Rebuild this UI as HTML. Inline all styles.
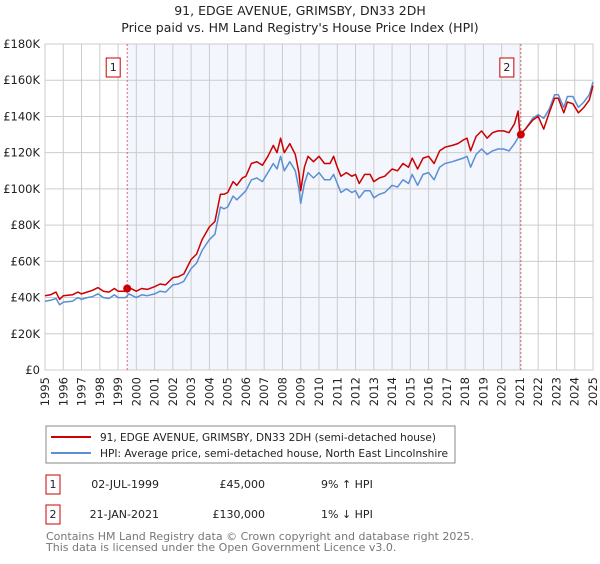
<!DOCTYPE html>
<html><head><meta charset="utf-8"><style>
body{margin:0;background:#fff;width:600px;height:560px;overflow:hidden;font-family:"DejaVu Sans","Liberation Sans",sans-serif;}
svg text{font-family:"DejaVu Sans","Liberation Sans",sans-serif;}
</style></head><body>
<svg id="chart" width="600" height="560">
<text x="300" y="15" text-anchor="middle" font-size="12.5" fill="#222">91, EDGE AVENUE, GRIMSBY, DN33 2DH</text>
<text x="300" y="32" text-anchor="middle" font-size="12.5" fill="#222">Price paid vs. HM Land Registry's House Price Index (HPI)</text>
<g id="plot"></g>
<g>
<rect x="46" y="426" width="409" height="37" fill="#fff" stroke="#888"/>
<line x1="51" y1="437" x2="91" y2="437" stroke="#cc0000" stroke-width="2"/>
<text x="100" y="441" font-size="10.5" fill="#222">91, EDGE AVENUE, GRIMSBY, DN33 2DH (semi-detached house)</text>
<line x1="51" y1="453" x2="91" y2="453" stroke="#5b8fd4" stroke-width="2"/>
<text x="100" y="457" font-size="10.5" fill="#222" textLength="348" lengthAdjust="spacingAndGlyphs">HPI: Average price, semi-detached house, North East Lincolnshire</text>
</g>
<g font-size="11" fill="#222">
<rect x="46" y="475" width="14" height="19" fill="#fff" stroke="#cc0000"/>
<text x="53" y="488" text-anchor="middle">1</text>
<text x="159" y="488" text-anchor="end">02-JUL-1999</text>
<text x="265" y="488" text-anchor="end">£45,000</text>
<text x="321" y="488">9% ↑ HPI</text>
<rect x="46" y="505" width="14" height="19" fill="#fff" stroke="#cc0000"/>
<text x="53" y="518" text-anchor="middle">2</text>
<text x="159" y="518" text-anchor="end">21-JAN-2021</text>
<text x="265" y="518" text-anchor="end">£130,000</text>
<text x="321" y="518">1% ↓ HPI</text>
</g>
<text x="46" y="540" font-size="11" fill="#777">Contains HM Land Registry data © Crown copyright and database right 2025.</text>
<text x="46" y="551" font-size="11" fill="#777">This data is licensed under the Open Government Licence v3.0.</text>
</svg>
<script>
const yTicks=[0,20,40,60,80,100,120,140,160,180];
const yTickLabels=["£0","£20K","£40K","£60K","£80K","£100K","£120K","£140K","£160K","£180K"];
const xYears=[1995,1996,1997,1998,1999,2000,2001,2002,2003,2004,2005,2006,2007,2008,2009,2010,2011,2012,2013,2014,2015,2016,2017,2018,2019,2020,2021,2022,2023,2024,2025];
const hpiYears=[1995.0,1995.3,1995.6,1995.8,1996.0,1996.5,1996.8,1997.0,1997.3,1997.6,1997.9,1998.2,1998.5,1998.8,1999.0,1999.4,1999.6,2000.0,2000.3,2000.6,2001.0,2001.3,2001.6,2002.0,2002.3,2002.6,2003.0,2003.3,2003.6,2004.0,2004.3,2004.6,2004.8,2005.0,2005.3,2005.5,2005.8,2006.0,2006.3,2006.6,2006.9,2007.2,2007.5,2007.7,2007.9,2008.1,2008.4,2008.7,2008.9,2009.0,2009.2,2009.4,2009.7,2010.0,2010.3,2010.6,2010.8,2011.0,2011.2,2011.5,2011.8,2012.0,2012.2,2012.5,2012.8,2013.0,2013.3,2013.6,2014.0,2014.3,2014.6,2014.9,2015.1,2015.4,2015.7,2016.0,2016.3,2016.6,2016.9,2017.3,2017.6,2017.9,2018.1,2018.3,2018.6,2018.9,2019.2,2019.5,2019.8,2020.1,2020.4,2020.7,2021.0,2021.3,2021.7,2022.0,2022.3,2022.6,2022.9,2023.1,2023.4,2023.6,2023.9,2024.2,2024.5,2024.8,2025.0];
const hpiValues=[38,38.5,39.5,36,37.5,38,40,39,40,40.5,42,40,39.5,41.5,40,40,42,40,41.5,41,42,43.5,43,47,47.5,49,56,59,66,72,75,90,89,90,96,94,97,99,105,106,104,109,114,111,118,110,115,110,100,92,103,109,106,109,105,105,108,103,98,100,98,99,95,99,99,95,97,98,102,101,105,103,108,102,108,109,105,112,114,115,116,117,118,112,119,122,119,121,122,122,121,125,130,133,139,141,139,144,152,152,145,151,151,145,148,152,159];
const priceYears=[1995.0,1995.3,1995.6,1995.8,1996.0,1996.5,1996.8,1997.0,1997.3,1997.6,1997.9,1998.2,1998.5,1998.8,1999.0,1999.4,1999.6,2000.0,2000.3,2000.6,2001.0,2001.3,2001.6,2002.0,2002.3,2002.6,2003.0,2003.3,2003.6,2004.0,2004.3,2004.6,2004.8,2005.0,2005.3,2005.5,2005.8,2006.0,2006.3,2006.6,2006.9,2007.2,2007.5,2007.7,2007.9,2008.1,2008.4,2008.7,2008.9,2009.0,2009.2,2009.4,2009.7,2010.0,2010.3,2010.6,2010.8,2011.0,2011.2,2011.5,2011.8,2012.0,2012.2,2012.5,2012.8,2013.0,2013.3,2013.6,2014.0,2014.3,2014.6,2014.9,2015.1,2015.4,2015.7,2016.0,2016.3,2016.6,2016.9,2017.3,2017.6,2017.9,2018.1,2018.3,2018.6,2018.9,2019.2,2019.5,2019.8,2020.1,2020.4,2020.7,2020.9,2021.0,2021.3,2021.7,2022.0,2022.3,2022.6,2022.9,2023.1,2023.4,2023.6,2023.9,2024.2,2024.5,2024.8,2025.0];
const priceValues=[41,41.5,43,39,41,41.5,43,42,43,44,45.5,43.5,43,45,43.5,43.5,45.5,43.5,45,44.5,46,47.5,47,51,51.5,53,61,64,72,79,82,97,97,98,104,102,106,107,114,115,113,118,124,120,128,120,125,119,109,99,112,118,115,118,114,114,118,112,107,109,107,108,103,108,108,104,106,107,111,110,114,112,117,111,117,118,114,121,123,124,125,127,128,121,129,132,128,131,132,132,131,136,143,130,133,138,140,133,142,150,150,142,148,147,142,145,149,157];
const saleYears=[1999.5,2021.05];
const saleValues=[45,130];
const saleLabels=["1","2"];

const NS="http://www.w3.org/2000/svg";
const L=45,R=593,T=44,B=370,X0=1995,X1=2025,YMAX=180;
function xs(v){return L+(v-X0)/(X1-X0)*(R-L);}
function ys(v){return B-v/YMAX*(B-T);}
const plot=document.getElementById('plot');
function mk(tag,attrs,parent){const e=document.createElementNS(NS,tag);for(const k in attrs)e.setAttribute(k,attrs[k]);(parent||plot).appendChild(e);return e;}

const shade=mk('rect',{x:xs(saleYears[0]),y:T,width:xs(saleYears[1])-xs(saleYears[0]),height:B-T,fill:'#f3f6fd'});



yTicks.forEach((t,i)=>{
  const g=mk('line',{x1:L,x2:R,y1:ys(t),y2:ys(t),stroke:'#cccccc','stroke-width':1});
  
  
  const tx=mk('text',{x:L-5,y:ys(t)+4,'text-anchor':'end','font-size':11.5,fill:'#222'});
  tx.textContent=yTickLabels[i];
  
  
});
xYears.forEach(yr=>{
  const g=mk('line',{x1:xs(yr),x2:xs(yr),y1:T,y2:B,stroke:'#cccccc','stroke-width':1});
  
  
  const tx=mk('text',{x:0,y:0,'text-anchor':'end','font-size':11.5,fill:'#222',transform:`translate(${xs(yr)+4},377) rotate(-90)`});
  tx.textContent=yr;
  
  
});
const fr=mk('rect',{x:L,y:T,width:R-L,height:B-T,fill:'none',stroke:'#cccccc'});



saleYears.forEach((yr,i)=>{
  const d=mk('line',{x1:xs(yr),x2:xs(yr),y1:T,y2:B,stroke:'#e06070','stroke-width':1,'stroke-dasharray':'2,2'});
  
  
  const bx=mk('rect',{x:xs(yr)-21,y:58,width:14,height:19,fill:'#fff',stroke:'#cc0000'});
  
  
  const t=mk('text',{x:xs(yr)-14,y:71,'text-anchor':'middle','font-size':11,fill:'#222'});
  t.textContent=saleLabels[i];
  
  
});

function line(xsArr,vals,color,name){
  const p=mk('path',{d:xsArr.map((x,i)=>(i?'L':'M')+xs(x).toFixed(1)+','+ys(vals[i]).toFixed(1)).join(''),fill:'none',stroke:color,'stroke-width':1.5,'stroke-linejoin':'round'});
  
  
}
line(hpiYears,hpiValues,'#5b8fd4','hpi-line');
line(priceYears,priceValues,'#cc0000','price-paid-line');
saleYears.forEach((yr,i)=>{
  const c=mk('circle',{cx:xs(yr),cy:ys(saleValues[i]),r:4,fill:'#cc0000'});
  
  
});
</script>
</body></html>
